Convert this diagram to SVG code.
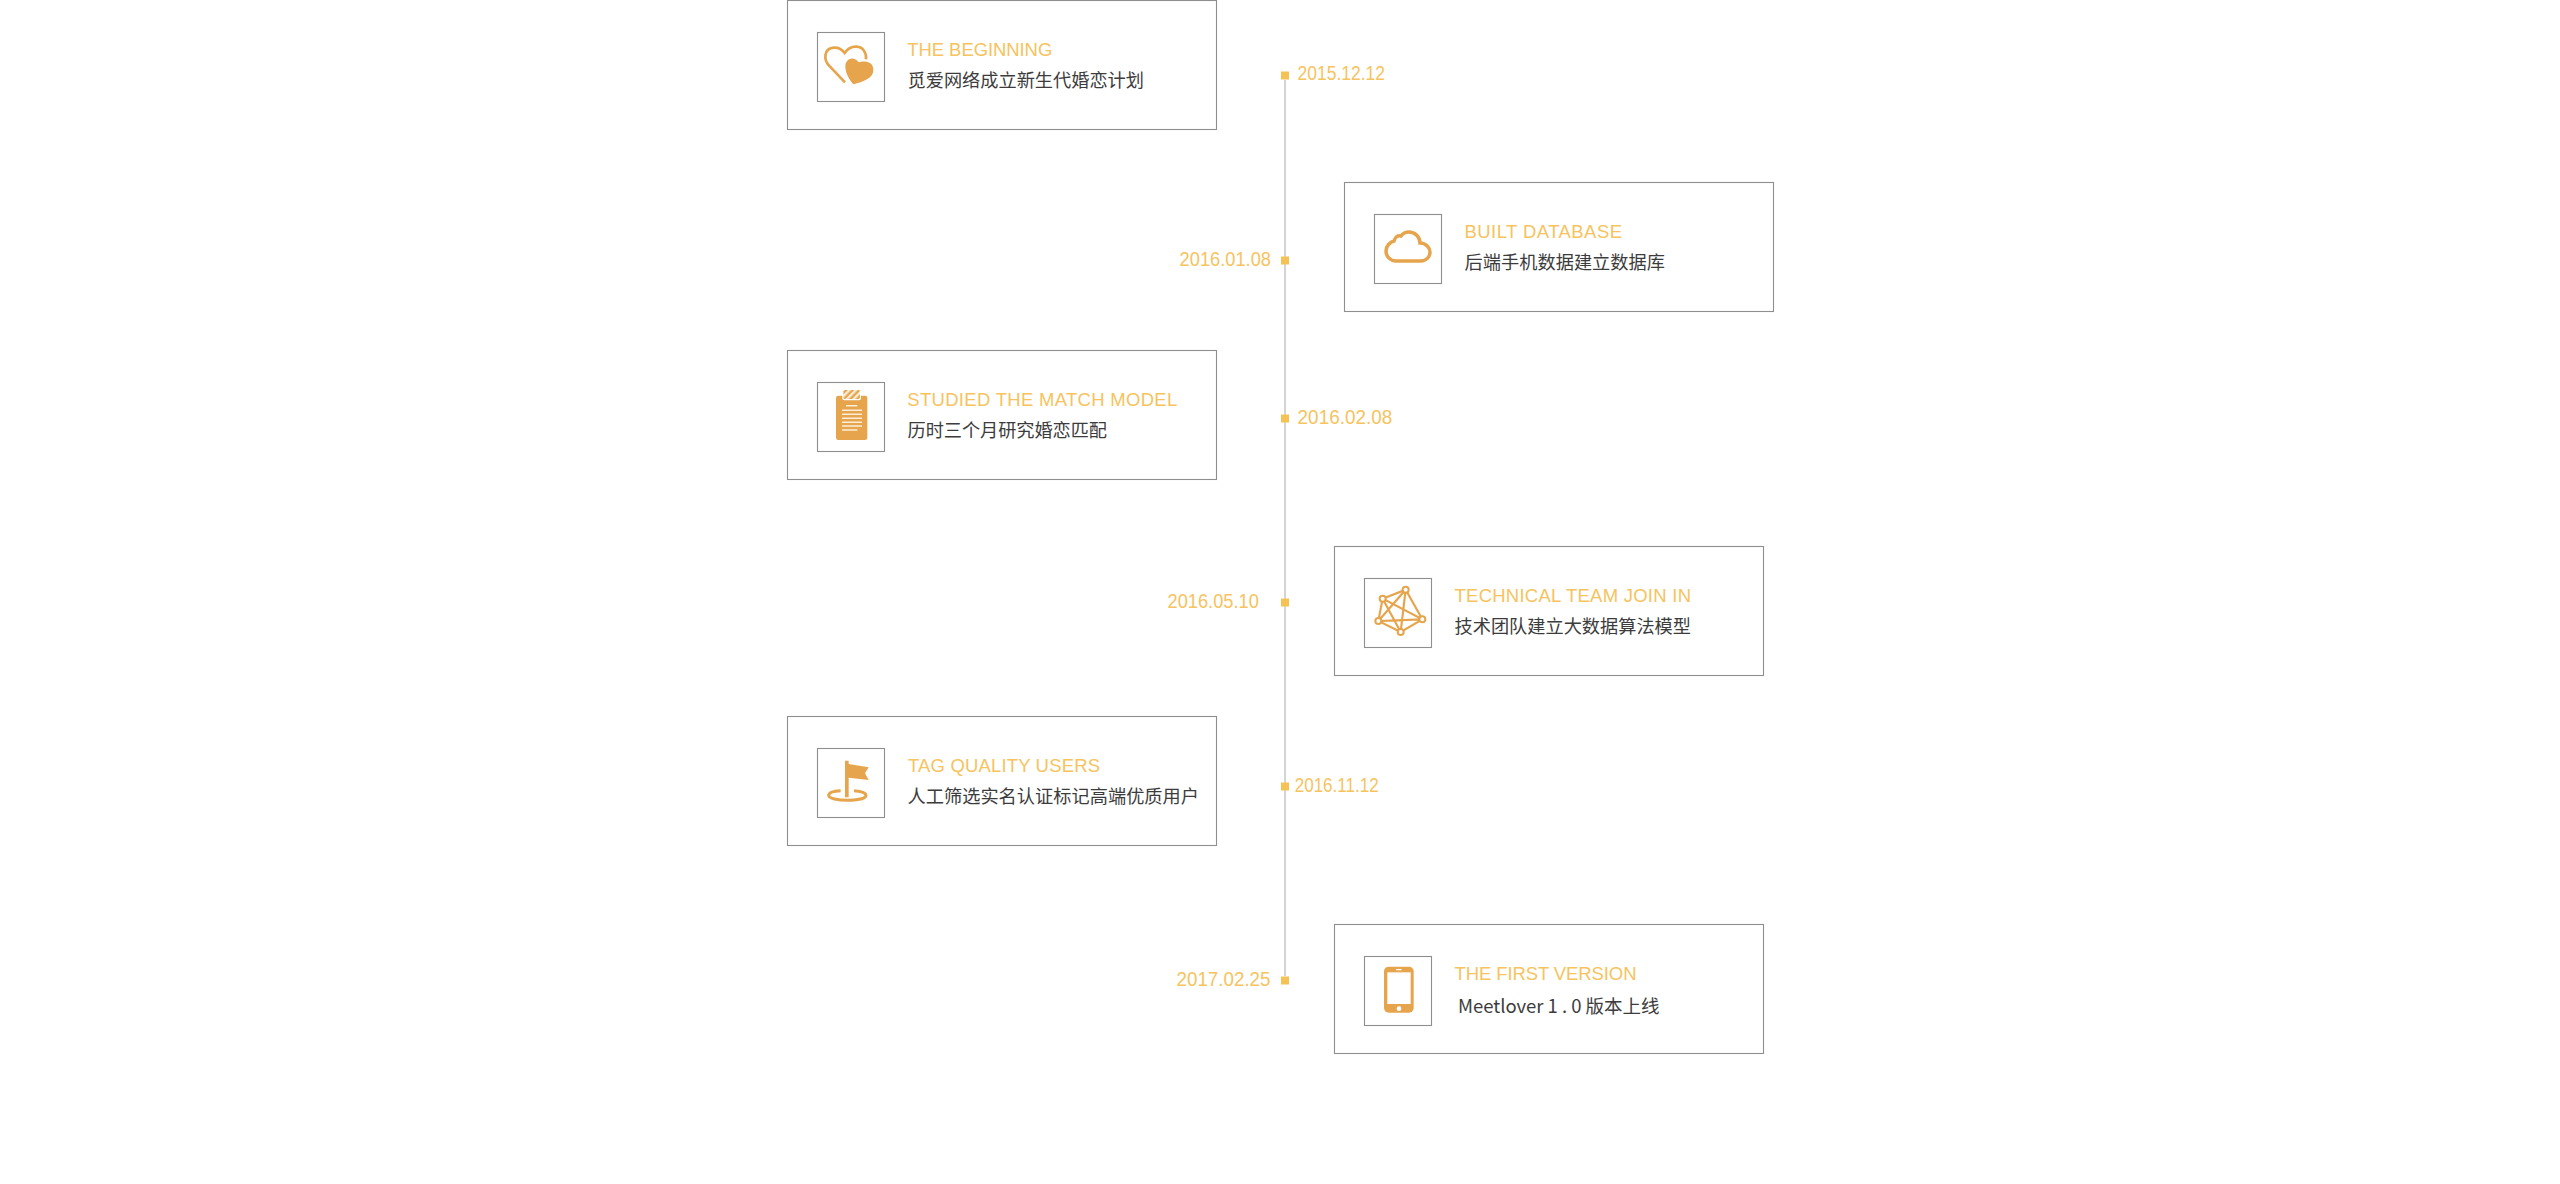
<svg xmlns="http://www.w3.org/2000/svg" width="2560" height="1184" viewBox="0 0 2560 1184">
<style>
.box{fill:#fff;stroke:#8e8e8e;stroke-width:1.1}
.ico{fill:#fff;stroke:#8e8e8e;stroke-width:1.1}
.dot{fill:#f6c155}
.date,.title{font-family:"Liberation Sans","Noto Sans CJK SC",sans-serif;fill:#f6c35e}
.date{font-size:19.5px}
.title{font-size:18.5px}
.sub{font-family:"Noto Sans CJK SC","Liberation Sans",sans-serif;font-size:18.2px;fill:#3c3c3c}
.fillo{fill:#e6a54c}
.lineo{fill:none;stroke:#e6a54c}
.cream{stroke:#fbeed9;stroke-width:4.5;fill:none}
.net circle{fill:#fff;stroke:#e6a54c;stroke-width:6}
</style>
<defs>
<pattern id="stripes" width="14" height="14" patternUnits="userSpaceOnUse" patternTransform="rotate(45)">
<rect width="14" height="14" fill="#e6a54c"/><rect width="7" height="14" fill="#fbeed9"/>
</pattern>
</defs>
<rect width="2560" height="1184" fill="#fff"/>
<g id="connectors">
<rect x="1284" y="80" width="2" height="896" fill="#d4d4d4"/>
</g>
<g id="node-1">
<rect class="box" x="787.5" y="0.5" width="429" height="129"/>
<rect class="ico" x="817.5" y="32.5" width="67" height="69"/>
<g transform="translate(810 25) scale(.3333)">
<path class="lineo" stroke-width="8" d="M105,172 L60,125 C38,103 42,70 72,68 C85,67 97,75 104,84 C112,72 125,64 140,65 C160,66 170,85 168,103"/>
<path class="fillo" d="M130,178 C120,165 105,145 106,122 C108,100 132,92 146,112 C158,108 190,105 190,135 C190,160 160,170 130,178 Z"/>
</g>
<text class="title" x="907.3" y="55.5" textLength="145">THE BEGINNING</text>
<text class="sub" x="907.5" y="87" textLength="236.5">觅爱网络成立新生代婚恋计划</text>
</g>
<g id="node-2">
<rect class="box" x="1344.5" y="182.5" width="429" height="129"/>
<rect class="ico" x="1374.5" y="214.5" width="67" height="69"/>
<path class="lineo" stroke-width="3.5" d="M1396,261 C1390,261 1386,256 1386,251 C1386,246 1390,242 1394,241 C1395,237 1398,235 1401,236 C1403,233 1406,232 1409,232 C1415,232 1420,237 1420,243 C1426,243 1430,248 1430,252 C1430,257 1426,261 1421,261 Z"/>
<text class="title" x="1464.5" y="238" textLength="157.5">BUILT DATABASE</text>
<text class="sub" x="1464.5" y="269" textLength="200.5">后端手机数据建立数据库</text>
</g>
<g id="node-3">
<rect class="box" x="787.5" y="350.5" width="429" height="129"/>
<rect class="ico" x="817.5" y="382.5" width="67" height="69"/>
<g transform="translate(810 375) scale(.3333)">
<rect class="fillo" x="78" y="62" width="94" height="133" rx="7"/>
<rect x="97" y="42" width="56" height="34" rx="6" fill="#fff"/>
<rect x="100" y="45" width="50" height="27" rx="4" fill="url(#stripes)"/>
<path class="cream" d="M108,92H142M96,106H156M96,118H156M96,130H156M96,142H156M96,153H156M96,165H142"/>
</g>
<text class="title" x="907.3" y="406" textLength="270">STUDIED THE MATCH MODEL</text>
<text class="sub" x="907.5" y="437" textLength="199.5">历时三个月研究婚恋匹配</text>
</g>
<g id="node-4">
<rect class="box" x="1334.5" y="546.5" width="429" height="129"/>
<rect class="ico" x="1364.5" y="578.5" width="67" height="69"/>
<g class="net" transform="translate(1360 570) scale(.3333)">
<path class="lineo" stroke-width="6.5" d="M68,86L137,59L187,148L122,186L55,153L68,86L187,148L55,153L137,59L122,186L68,86"/>
<circle cx="137" cy="59" r="9"/><circle cx="68" cy="86" r="9"/><circle cx="187" cy="148" r="9"/><circle cx="55" cy="153" r="9"/><circle cx="122" cy="186" r="9"/>
</g>
<text class="title" x="1454.5" y="602" textLength="236.5">TECHNICAL TEAM JOIN IN</text>
<text class="sub" x="1454.5" y="633" textLength="236.5">技术团队建立大数据算法模型</text>
</g>
<g id="node-5">
<rect class="box" x="787.5" y="716.5" width="429" height="129"/>
<rect class="ico" x="817.5" y="748.5" width="67" height="69"/>
<g transform="translate(810 740) scale(.3333)">
<path class="fillo" d="M105,62H116V72L176,82L165,100L176,120L116,113V172H105Z"/>
<path class="lineo" stroke-width="9" d="M92,152 C70,153 56,158 56,166 C56,176 85,181 112,181 C140,181 168,176 168,166 C168,158 150,153 132,152"/>
</g>
<text class="title" x="908" y="772" textLength="192">TAG QUALITY USERS</text>
<text class="sub" x="907.5" y="803" textLength="291.5">人工筛选实名认证标记高端优质用户</text>
</g>
<g id="node-6">
<rect class="box" x="1334.5" y="924.5" width="429" height="129"/>
<rect class="ico" x="1364.5" y="956.5" width="67" height="69"/>
<g transform="translate(1360 950) scale(.3333)">
<rect class="fillo" x="72" y="50" width="89" height="138" rx="14"/>
<rect x="82" y="67" width="70" height="95" fill="#fff"/>
<rect x="108" y="57" width="17" height="4" rx="2" fill="#fff"/>
<circle cx="117" cy="176" r="7" fill="#fff"/>
</g>
<text class="title" x="1454.5" y="980" textLength="182">THE FIRST VERSION</text>
<text class="sub" x="1458" y="1013" textLength="201.5" style="font-size:18.5px">Meetlover 1 . 0 版本上线</text>
</g>
<g id="date-1"><rect class="dot" x="1281" y="71.5" width="8" height="8"/><text class="date" x="1297.6" y="80" textLength="87.4" lengthAdjust="spacingAndGlyphs">2015.12.12</text></g>
<g id="date-2"><rect class="dot" x="1281" y="256.5" width="8" height="8"/><text class="date" x="1179.6" y="266" textLength="91.4" lengthAdjust="spacingAndGlyphs">2016.01.08</text></g>
<g id="date-3"><rect class="dot" x="1281" y="414.5" width="8" height="8"/><text class="date" x="1297.6" y="424" textLength="94.7" lengthAdjust="spacingAndGlyphs">2016.02.08</text></g>
<g id="date-4"><rect class="dot" x="1281" y="598.5" width="8" height="8"/><text class="date" x="1167.5" y="608" textLength="91.4" lengthAdjust="spacingAndGlyphs">2016.05.10</text></g>
<g id="date-5"><rect class="dot" x="1281" y="782.5" width="8" height="8"/><text class="date" x="1294.7" y="792" textLength="84" lengthAdjust="spacingAndGlyphs">2016.11.12</text></g>
<g id="date-6"><rect class="dot" x="1281" y="976.5" width="8" height="8"/><text class="date" x="1176.5" y="986" textLength="94" lengthAdjust="spacingAndGlyphs">2017.02.25</text></g>
</svg>
